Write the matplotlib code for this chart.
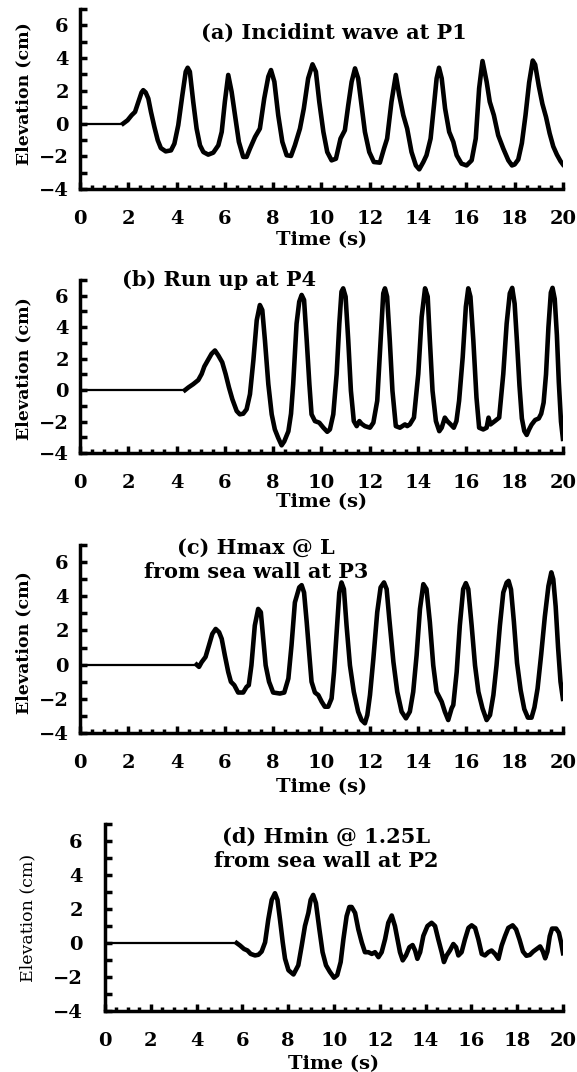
import matplotlib
matplotlib.use('Agg')
import matplotlib.pyplot as plt
from matplotlib.ticker import MultipleLocator

plt.rcParams['font.family'] = 'DejaVu Serif'
plt.rcParams['font.weight'] = 'bold'

# Wave records: time (s) and water elevation (cm)
time_a = [0, 1.79, 1.97, 2.14, 2.28, 2.42, 2.55, 2.62, 2.72, 2.83, 2.94, 3.08, 3.22, 3.35, 3.55, 3.77,
          3.91, 4.07, 4.24, 4.38, 4.46, 4.55, 4.69, 4.83, 4.97, 5.11, 5.31, 5.52, 5.73, 5.87, 6.0,
          6.14, 6.28, 6.42, 6.58, 6.76, 6.9, 7.04, 7.25, 7.45, 7.63, 7.8, 7.91, 8.05, 8.21, 8.38,
          8.56, 8.74, 8.9, 9.11, 9.27, 9.45, 9.63, 9.77, 9.91, 10.08, 10.24, 10.42, 10.6, 10.79,
          10.97, 11.11, 11.25, 11.39, 11.52, 11.66, 11.8, 11.98, 12.17, 12.42, 12.59, 12.72, 12.9,
          13.08, 13.22, 13.39, 13.55, 13.73, 13.91, 14.05, 14.22, 14.35, 14.52, 14.66, 14.77, 14.87,
          14.98, 15.12, 15.29, 15.46, 15.6, 15.8, 16.01, 16.22, 16.39, 16.53, 16.67, 16.84, 16.97,
          17.14, 17.32, 17.53, 17.74, 17.89, 18.0, 18.15, 18.3, 18.45, 18.6, 18.75, 18.85, 19.0,
          19.15, 19.3, 19.45, 19.6, 19.75, 19.9, 20.0]
elev_a = [0, 0, 0.2, 0.51, 0.71, 1.33, 1.9, 2.04, 1.9, 1.53, 0.71, -0.2, -1.02, -1.5, -1.7, -1.64,
          -1.23, -0.1, 1.74, 3.17, 3.41, 3.17, 1.33, -0.31, -1.33, -1.74, -1.9, -1.78, -1.33, -0.51, 1.33,
          2.97, 1.94, 0.51, -1.12, -2.04, -2.04, -1.53, -0.82, -0.31, 1.53, 2.87, 3.27, 2.56, 0.51, -1.12,
          -1.94, -1.98, -1.33, -0.31, 0.92, 2.76, 3.62, 3.17, 1.33, -0.51, -1.74, -2.25, -2.15, -0.92,
          -0.41, 1.12, 2.55, 3.37, 2.76, 1.12, -0.51, -1.74, -2.35, -2.39, -1.53, -0.92, 1.33,
          2.97, 1.74, 0.51, -0.31, -1.74, -2.56, -2.8, -2.35, -1.94, -0.92, 1.12, 2.76, 3.41,
          2.76, 0.92, -0.51, -1.12, -1.94, -2.45, -2.56, -2.25, -0.92, 2.15, 3.82, 2.56, 1.33,
          0.51, -0.72, -1.53, -2.25, -2.56, -2.5, -2.2, -1.2, 0.5, 2.5, 3.85, 3.6, 2.3,
          1.2, 0.4, -0.6, -1.4, -1.9, -2.3, -2.5]

time_b = [0, 4.35, 4.49, 4.69, 4.9, 5.04, 5.15, 5.29, 5.45, 5.59, 5.73, 5.89, 6.03, 6.17, 6.31, 6.49,
          6.62, 6.76, 6.9, 7.04, 7.18, 7.32, 7.45, 7.55, 7.66, 7.8, 7.94, 8.07, 8.21, 8.35, 8.46,
          8.63, 8.74, 8.83, 8.97, 9.08, 9.18, 9.28, 9.39, 9.5, 9.59, 9.73, 9.91, 10.08, 10.24, 10.35,
          10.49, 10.63, 10.74, 10.83, 10.9, 11.0, 11.11, 11.22, 11.34, 11.46, 11.57, 11.66, 11.8,
          12.01, 12.15, 12.31, 12.45, 12.56, 12.63, 12.72, 12.83, 12.94, 13.08, 13.25, 13.46, 13.55,
          13.66, 13.83, 14.01, 14.15, 14.29, 14.4, 14.49, 14.6, 14.74, 14.88, 14.98, 15.11, 15.21,
          15.35, 15.48, 15.59, 15.7, 15.85, 15.98, 16.08, 16.17, 16.29, 16.42, 16.53, 16.7, 16.84,
          16.92, 17.0, 17.18, 17.36, 17.53, 17.67, 17.8, 17.9, 18.0, 18.1, 18.2, 18.3, 18.4, 18.5,
          18.6, 18.7, 18.85, 19.0, 19.1, 19.2, 19.3, 19.4, 19.5, 19.57, 19.66, 19.75, 19.83, 19.92, 20.0]
elev_b = [0, 0, 0.17, 0.38, 0.64, 1.03, 1.5, 1.88, 2.31, 2.52, 2.2, 1.77, 1.03, 0.17, -0.58, -1.33,
          -1.54, -1.5, -1.22, -0.26, 1.88, 4.44, 5.41, 5.09, 3.16, 0.38, -1.54, -2.5, -3.04, -3.51, -3.26,
          -2.62, -1.5, 0.38, 4.23, 5.62, 6.05, 5.73, 3.16, 0.38, -1.54, -1.97, -2.07, -2.39, -2.65, -2.5,
          -1.54, 1.03, 4.23, 6.26, 6.47, 5.94, 3.16, -0.04, -1.97, -2.29, -1.97, -2.14, -2.29,
          -2.39, -2.07, -0.68, 3.16, 6.15, 6.47, 5.94, 3.16, -0.04, -2.29, -2.39, -2.18, -2.29,
          -2.18, -1.75, 1.03, 4.65, 6.47, 5.94, 3.16, -0.04, -1.97, -2.61, -2.39, -1.75, -1.97,
          -2.18, -2.39, -1.97, -0.68, 2.1, 5.3, 6.47, 5.94, 3.16, -0.47, -2.39, -2.5, -2.39,
          -1.75, -2.18, -1.97, -1.75, 1.03, 4.23, 6.15, 6.5, 5.5, 3.0, 0.3, -1.8, -2.6, -2.85,
          -2.5, -2.2, -1.9, -1.8, -1.5, -0.8, 1.0, 4.0, 6.2, 6.5, 5.8, 3.5, 0.5, -2.0, -3.1]

time_c = [0, 4.83, 4.93, 5.04, 5.2, 5.34, 5.48, 5.62, 5.76, 5.87, 6.0, 6.14, 6.25, 6.39, 6.55, 6.76,
          6.9, 6.99, 7.1, 7.24, 7.38, 7.49, 7.59, 7.69, 7.83, 8.0, 8.28, 8.46, 8.63, 8.76, 8.9,
          9.08, 9.18, 9.28, 9.39, 9.5, 9.59, 9.73, 9.87, 10.01, 10.14, 10.28, 10.42, 10.52, 10.63,
          10.74, 10.83, 10.93, 11.04, 11.18, 11.34, 11.52, 11.66, 11.8, 11.9, 12.01, 12.15, 12.31,
          12.45, 12.59, 12.7, 12.81, 12.98, 13.14, 13.32, 13.5, 13.66, 13.8, 13.94, 14.08, 14.22,
          14.35, 14.49, 14.63, 14.77, 14.98, 15.11, 15.25, 15.39, 15.46, 15.6, 15.73, 15.87, 15.98,
          16.08, 16.22, 16.36, 16.5, 16.67, 16.84, 16.98, 17.12, 17.25, 17.39, 17.53, 17.67, 17.75,
          17.85, 17.97, 18.1, 18.25, 18.4, 18.55, 18.7, 18.82, 18.95, 19.1, 19.25, 19.4, 19.52,
          19.6, 19.7, 19.8, 19.9, 20.0]
elev_c = [0, 0, -0.13, 0.15, 0.45, 1.12, 1.8, 2.09, 1.9, 1.51, 0.54, -0.43, -1.0, -1.2, -1.63, -1.63,
          -1.3, -1.2, -0.04, 2.29, 3.26, 3.07, 1.51, -0.04, -1.0, -1.63, -1.69, -1.63, -0.81, 1.12, 3.64,
          4.52, 4.65, 4.22, 2.48, 0.54, -1.0, -1.63, -1.78, -2.17, -2.46, -2.46, -1.98, -0.43, 1.9,
          4.22, 4.81, 4.42, 2.29, -0.04, -1.59, -2.75, -3.24, -3.43, -2.95, -1.78, 0.35, 3.07,
          4.52, 4.81, 4.42, 2.68, 0.16, -1.59, -2.75, -3.14, -2.75, -1.59, 0.54, 3.26, 4.71,
          4.42, 2.48, -0.04, -1.59, -2.17, -2.75, -3.24, -2.56, -2.36, -0.43, 2.29, 4.42, 4.77,
          4.42, 2.29, -0.04, -1.59, -2.56, -3.24, -2.95, -1.78, -0.04, 2.29, 4.22, 4.8, 4.9,
          4.4, 2.5, 0.1, -1.5, -2.6, -3.1, -3.1, -2.5, -1.4, 0.6, 2.8, 4.6, 5.4,
          5.0, 3.4, 1.0, -1.0, -2.0]

time_d = [0, 5.75, 5.9, 6.07, 6.22, 6.36, 6.55, 6.7, 6.84, 6.99, 7.13, 7.28, 7.42, 7.53, 7.64, 7.76,
          7.86, 8.01, 8.23, 8.44, 8.59, 8.73, 8.88, 8.98, 9.09, 9.21, 9.36, 9.5, 9.65, 9.82, 10.0,
          10.14, 10.29, 10.41, 10.55, 10.67, 10.77, 10.92, 11.06, 11.21, 11.35, 11.5, 11.65, 11.79,
          11.94, 12.08, 12.23, 12.37, 12.52, 12.66, 12.77, 12.88, 13.0, 13.14, 13.29, 13.43, 13.54,
          13.64, 13.76, 13.9, 14.08, 14.26, 14.41, 14.55, 14.7, 14.8, 14.92, 15.06, 15.21, 15.33,
          15.43, 15.57, 15.72, 15.87, 16.01, 16.16, 16.3, 16.45, 16.59, 16.74, 16.88, 17.03, 17.18,
          17.32, 17.47, 17.61, 17.8, 17.95, 18.1, 18.25, 18.4, 18.55, 18.7, 18.85, 19.0, 19.12,
          19.22, 19.32, 19.42, 19.52, 19.7, 19.82, 19.92, 20.0]
elev_d = [0, 0, -0.15, -0.35, -0.44, -0.64, -0.73, -0.69, -0.5, 0.04, 1.39, 2.54, 2.93, 2.54, 1.39, 0.04,
          -0.92, -1.6, -1.85, -1.31, -0.15, 1.0, 1.77, 2.54, 2.83, 2.35, 0.81, -0.54, -1.31, -1.7, -2.04,
          -1.89, -1.12, 0.23, 1.58, 2.12, 2.12, 1.77, 0.81, 0.04, -0.54, -0.54, -0.64, -0.54,
          -0.83, -0.54, 0.23, 1.19, 1.62, 1.0, 0.23, -0.54, -1.02, -0.73, -0.25, -0.12, -0.44,
          -0.93, -0.54, 0.42, 1.0, 1.19, 1.0, 0.23, -0.54, -1.12, -0.73, -0.44, -0.06, -0.25,
          -0.73, -0.54, 0.23, 0.89, 1.04, 0.89, 0.23, -0.64, -0.73, -0.54, -0.44, -0.64, -0.93,
          -0.15, 0.42, 0.89, 1.04, 0.8, 0.2, -0.5, -0.75, -0.7, -0.5, -0.35, -0.2, -0.5,
          -0.9, -0.5, 0.4, 0.85, 0.85, 0.6, 0.0, -0.6]

titles = ['(a) Incidint wave at P1',
          '(b) Run up at P4',
          '(c) Hmax @ L\nfrom sea wall at P3',
          '(d) Hmin @ 1.25L\nfrom sea wall at P2']
y_tick_values = [-4, -2, 0, 2, 4, 6]
x_tick_values = [0, 2, 4, 6, 8, 10, 12, 14, 16, 18, 20]


# One panel: thin still-water line, then the thick wave record
def draw_panel(ax, time, elev, title, title_xy, ylabel_xy, ylabel_weight='bold'):
    ax.plot(time[:2], elev[:2], color='black', lw=1.6)
    ax.plot(time[1:], elev[1:], color='black', lw=3.3, solid_joinstyle='round')

    ax.set_xlim(0, 20)
    ax.set_ylim(-4, 7)
    ax.spines['top'].set_visible(False)
    ax.spines['right'].set_visible(False)
    ax.spines['left'].set_linewidth(2.5)
    ax.spines['bottom'].set_linewidth(2.5)

    ax.set_xticks(x_tick_values)
    ax.xaxis.set_minor_locator(MultipleLocator(0.5))
    ax.set_yticks(y_tick_values)
    ax.yaxis.set_minor_locator(MultipleLocator(1))
    ax.tick_params(axis='x', which='major', direction='in', length=5, width=2.5, pad=15, labelsize=14)
    ax.tick_params(axis='x', which='minor', direction='in', length=3, width=2.5)
    ax.tick_params(axis='y', which='both', direction='in', length=5, width=2.5, pad=8, labelsize=14)

    # axis titles placed where the original puts them
    ax.set_xlabel('Time (s)', fontsize=14, fontweight='bold')
    ax.xaxis.label.set_va('center')
    ax.xaxis.set_label_coords(0.5, -0.285)
    ax.set_ylabel('Elevation (cm)', fontsize=12.5, fontweight=ylabel_weight)
    ax.yaxis.label.set_va('center')
    ax.yaxis.set_label_coords(*ylabel_xy)

    ax.text(title_xy[0], title_xy[1], title, transform=ax.transAxes, ha='center', va='center',
            fontsize=15, fontweight='bold', linespacing=1.25)


fig = plt.figure(figsize=(5.77, 10.72), dpi=100)
ax_a = fig.add_axes([0.1386, 0.8237, 0.837, 0.1679])
ax_b = fig.add_axes([0.1386, 0.5774, 0.837, 0.1614])
ax_c = fig.add_axes([0.1386, 0.3162, 0.837, 0.1754])
ax_d = fig.add_axes([0.182, 0.0569, 0.7938, 0.1744])

draw_panel(ax_a, time_a, elev_a, titles[0], (0.525, 0.867), (-0.116, 0.53))
draw_panel(ax_b, time_b, elev_b, titles[1], (0.288, 1.0), (-0.116, 0.49))
draw_panel(ax_c, time_c, elev_c, titles[2], (0.364, 0.92), (-0.116, 0.48))
draw_panel(ax_d, time_d, elev_d, titles[3], (0.483, 0.869), (-0.168, 0.5), ylabel_weight='normal')
ax_d.tick_params(axis='y', which='both', pad=16)

fig.savefig('out.png', dpi=100)
